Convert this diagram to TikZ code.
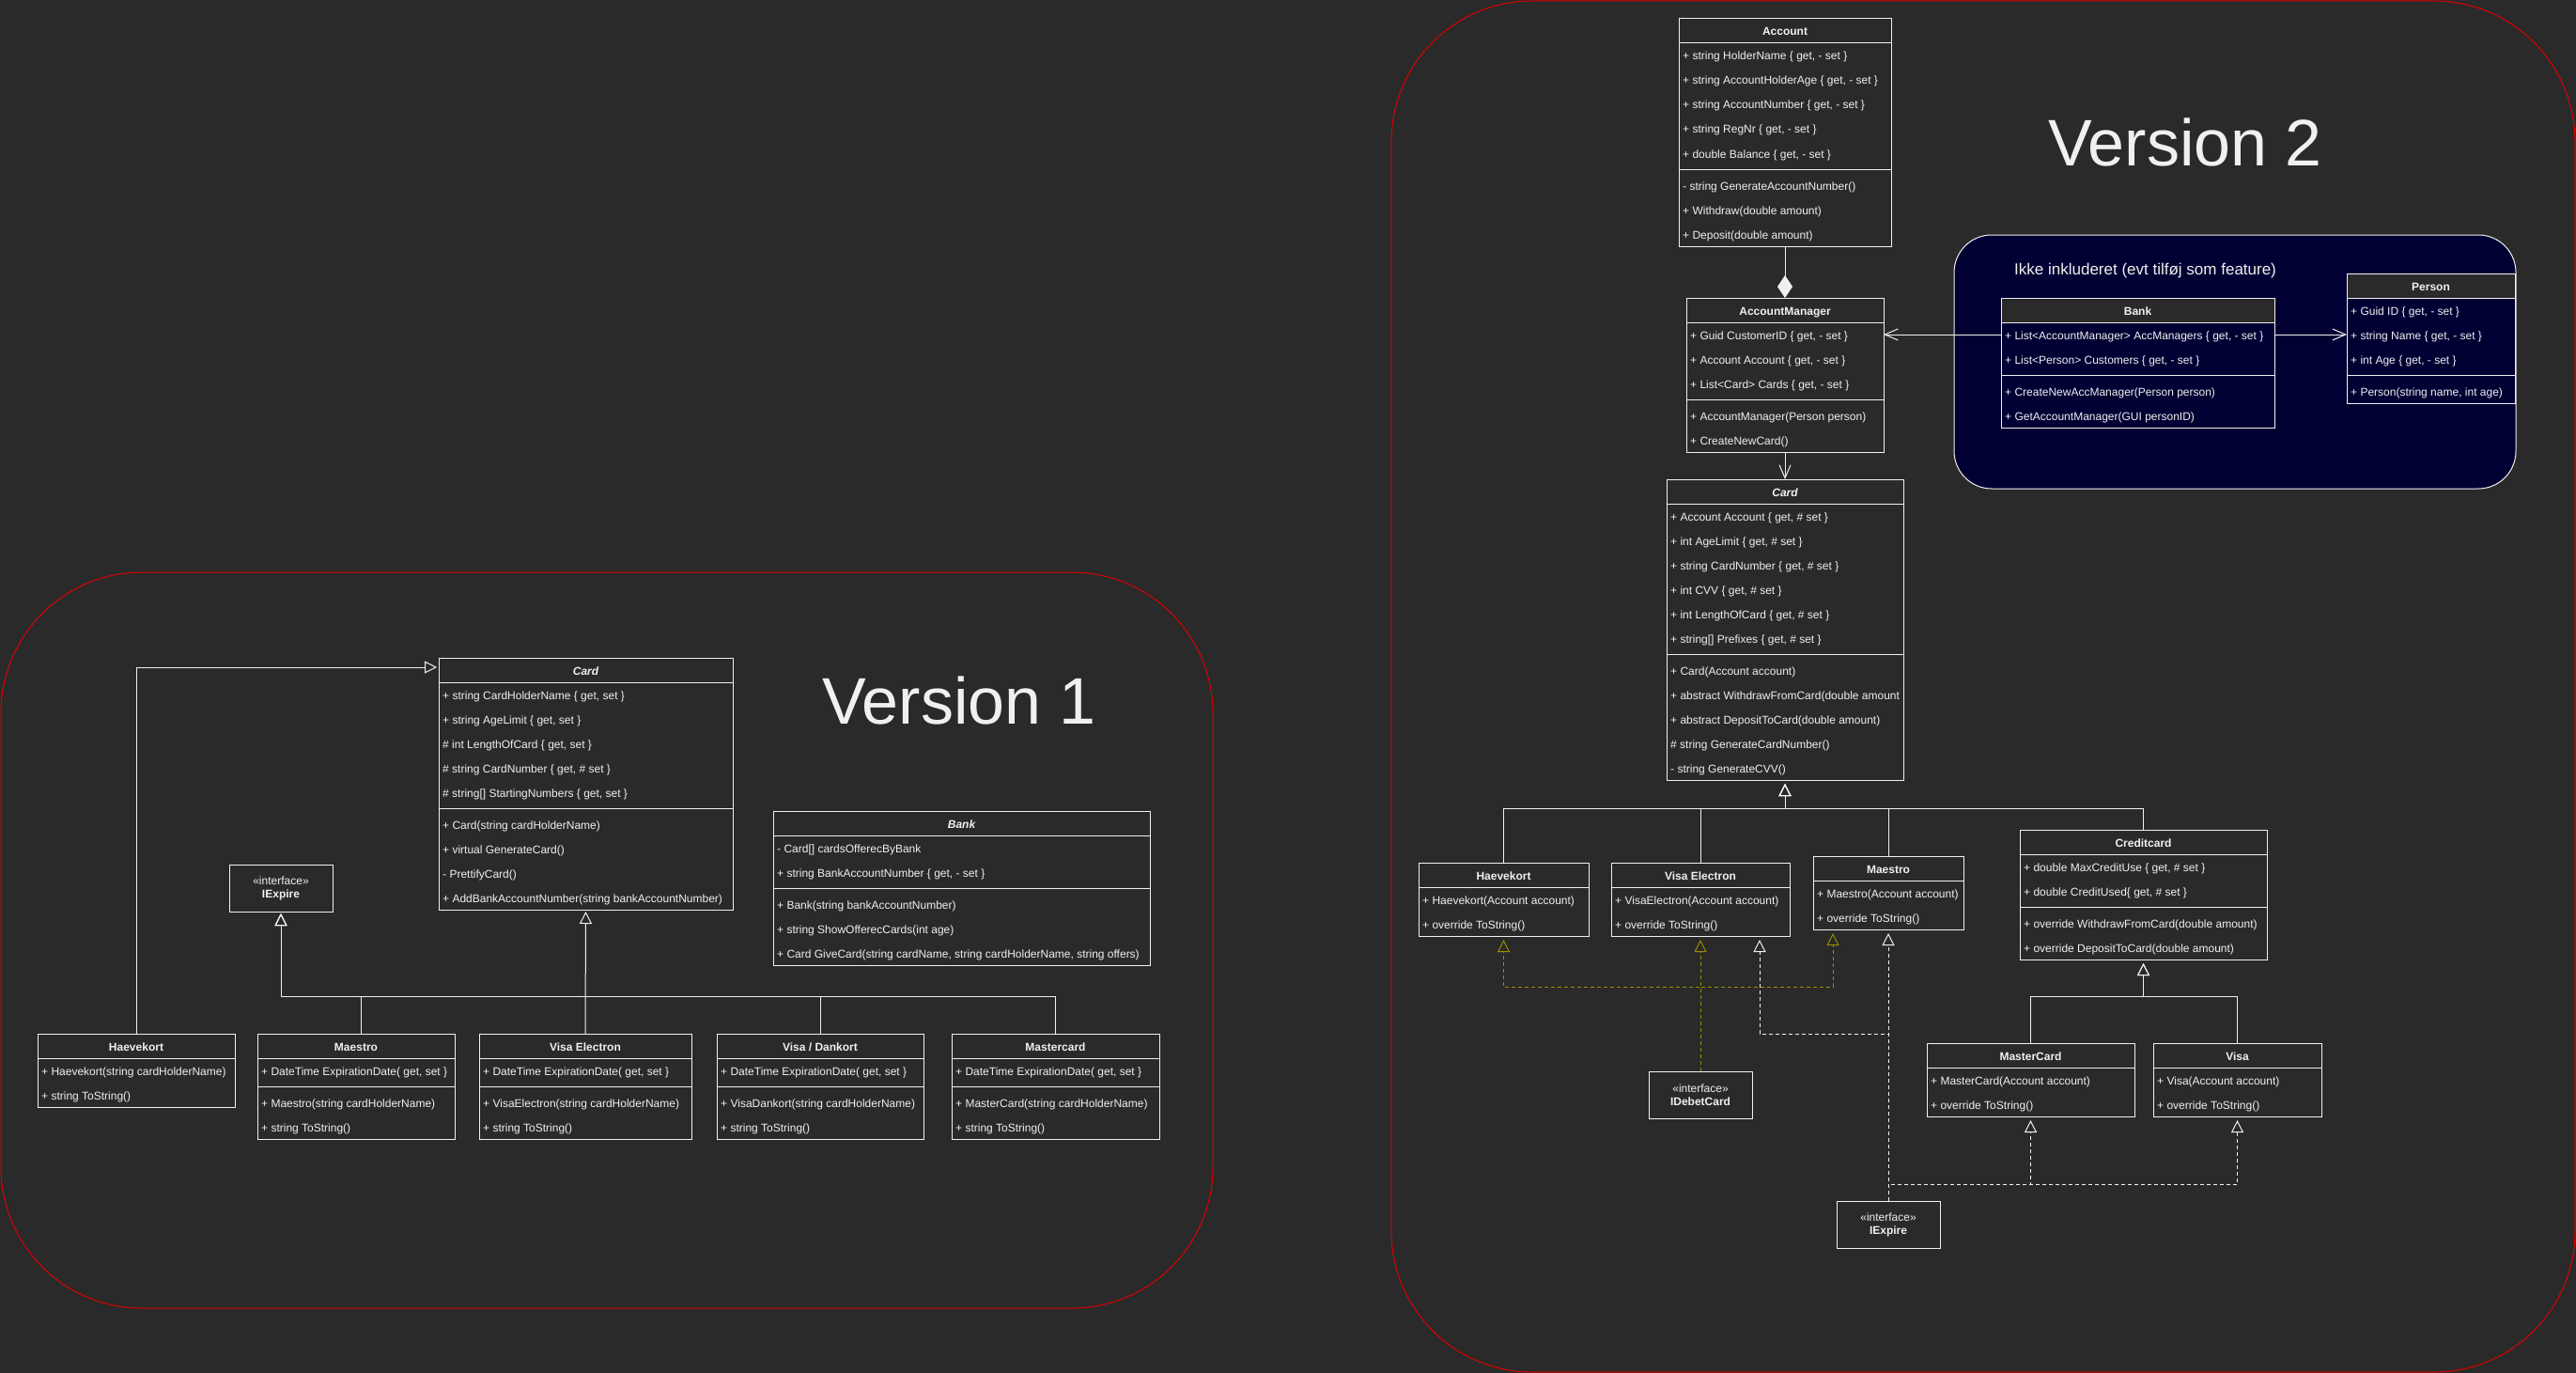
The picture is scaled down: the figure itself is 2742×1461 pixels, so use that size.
\documentclass[tikz,border=0pt]{standalone}
\usepackage{fontspec}
\setmainfont{Liberation Sans}
\usetikzlibrary{arrows.meta,calc}
\definecolor{bg}{HTML}{2A2A2A}
\definecolor{fg}{HTML}{F0F0F0}
\definecolor{navy}{HTML}{000033}
\definecolor{framered}{HTML}{E00000}
\definecolor{gold}{HTML}{A08A00}
\tikzset{
  umlbox/.style={draw=fg, line width=1pt, inner sep=0pt, outer sep=0pt, anchor=north west},
  umlline/.style={draw=fg, line width=1pt},
  umltext/.style={anchor=base west, inner sep=0pt, text=fg, font=\fontsize{12}{14}\selectfont},
  umltitle/.style={anchor=base, inner sep=0pt, text=fg, font=\fontsize{12}{14}\selectfont\bfseries},
  ifbox/.style={umlbox, minimum width=110, minimum height=50, align=center, text=fg, font=\fontsize{12}{14}\selectfont},
  inh/.style={draw=fg, line width=1pt, -{Triangle[open, length=13pt, width=13pt]}, shorten >=2pt},
  inhb/.style={draw=fg, line width=1pt, -{Triangle[open, length=13pt, width=13pt]}, shorten >=4pt},
  ydash/.style={draw=gold, line width=1pt, dash pattern=on 4pt off 3pt, -{Triangle[open, length=13pt, width=13pt]}, shorten >=4pt},
  wdash/.style={draw=fg, line width=1pt, dash pattern=on 4pt off 3pt, -{Triangle[open, length=13pt, width=13pt]}, shorten >=4pt},
  assoc/.style={draw=fg, line width=1pt, -{Straight Barb[length=14pt, width=12pt]}},
  compo/.style={draw=fg, line width=1pt, -{Diamond[length=24pt, width=16pt, fill=fg]}},
  framebox/.style={draw=framered, line width=1pt, rounded corners=150pt, inner sep=0pt, outer sep=0pt, anchor=north west},
  bigtitle/.style={text=fg, inner sep=0pt, font=\fontsize{70}{82}\selectfont}
}
\newcommand\umlrows[4]{%
  \foreach \t [count=\k] in {#4}{%
    \node[umltext] (#1\k) at ({#2+4},{#3+26*\k-8}) {\t};
  }%
}
\newcommand\umlclass[9]{%
  \pgfmathtruncatemacro\umlh{26+26*#5+(#6>0)*(8+26*#6)}%
  \node[umlbox, minimum width=#4, minimum height=\umlh] (#1) at (#2,#3) {};
  \node[umltitle] (#1-t) at ({#2+#4/2},{#3+18}) {#7};
  \draw[umlline] ($(#1.north west)+(0,26)$) -- ($(#1.north east)+(0,26)$);
  \umlrows{#1-a}{#2}{#3+26}{#8}%
  \ifnum#6>0
    \draw[umlline] ($(#1.north west)+(0,{30+26*#5})$) -- ($(#1.north east)+(0,{30+26*#5})$);
    \umlrows{#1-m}{#2}{#3+34+26*#5}{#9}%
  \fi
}
\begin{document}
\begin{tikzpicture}[x=1pt, y=-1pt]
\fill[bg] (0,0) rectangle (2742,1461);
\useasboundingbox (0,0) rectangle (2742,1461);

% frames
\node[framebox, minimum width=1290, minimum height=783] (v1frame) at (1,609) {};
\node[framebox, minimum width=1260, minimum height=1459] (v2frame) at (1481,1) {};
\node[bigtitle] (v1title) at (1021,745) {Version 1};
\node[bigtitle] (v2title) at (2326,151) {Version 2};

% ---------------- Version 1 ----------------
\umlclass{card1}{467}{700}{313}{5}{4}{\itshape Card}
  {{+ string CardHolderName \{ get, set \}},
   {+ string AgeLimit \{ get, set \}},
   {\# int LengthOfCard \{ get, set \}},
   {\# string CardNumber \{ get, \# set \}},
   {\# string[] StartingNumbers \{ get, set \}}}
  {{+ Card(string cardHolderName)},
   {+ virtual GenerateCard()},
   {- PrettifyCard()},
   {+ AddBankAccountNumber(string bankAccountNumber)}}

\umlclass{bank1}{823}{863}{401}{2}{3}{\itshape Bank}
  {{- Card[] cardsOfferecByBank},
   {+ string BankAccountNumber \{ get, - set \}}}
  {{+ Bank(string bankAccountNumber)},
   {+ string ShowOfferecCards(int age)},
   {+ Card GiveCard(string cardName, string cardHolderName, string offers)}}

\node[ifbox] (iexp1) at (244,920) {«interface»\\\textbf{IExpire}};

\umlclass{hae1}{40}{1100}{210}{2}{0}{Haevekort}
  {{+ Haevekort(string cardHolderName)},
   {+ string ToString()}}{}
\umlclass{mae1}{274}{1100}{210}{1}{2}{Maestro}
  {{+ DateTime ExpirationDate( get, set \}}}
  {{+ Maestro(string cardHolderName)},
   {+ string ToString()}}
\umlclass{vel1}{510}{1100}{226}{1}{2}{Visa Electron}
  {{+ DateTime ExpirationDate( get, set \}}}
  {{+ VisaElectron(string cardHolderName)},
   {+ string ToString()}}
\umlclass{vd1}{763}{1100}{220}{1}{2}{Visa / Dankort}
  {{+ DateTime ExpirationDate( get, set \}}}
  {{+ VisaDankort(string cardHolderName)},
   {+ string ToString()}}
\umlclass{mc1}{1013}{1100}{221}{1}{2}{Mastercard}
  {{+ DateTime ExpirationDate( get, set \}}}
  {{+ MasterCard(string cardHolderName)},
   {+ string ToString()}}

\draw[inh] (hae1.north) |- ($(card1.north west)+(0,10)$);
\draw[inh] (vel1.north) -- (card1.south);
\draw[inh] ($(mae1.north)+(5,0)$) -- ++(0,-40) -| (iexp1.south);
\draw[inh] (vd1.north) -- ++(0,-40) -| (iexp1.south);
\draw[inh] (mc1.north) -- ++(0,-40) -| (iexp1.south);

% ---------------- Version 2 ----------------
\node[draw=fg, fill=navy, line width=1pt, rounded corners=40pt, minimum width=598, minimum height=270, inner sep=0pt, outer sep=0pt, anchor=north west] (ext) at (2080,250) {};
\node[anchor=base west, inner sep=0pt, text=fg, font=\fontsize{17}{20}\selectfont] (extlabel) at (2144,292) {Ikke inkluderet (evt tilføj som feature)};

\umlclass{acc}{1787}{20}{226}{5}{3}{Account}
  {{+ string HolderName \{ get, - set \}},
   {+ string AccountHolderAge \{ get, - set \}},
   {+ string AccountNumber \{ get, - set \}},
   {+ string RegNr \{ get, - set \}},
   {+ double Balance \{ get, - set \}}}
  {{- string GenerateAccountNumber()},
   {+ Withdraw(double amount)},
   {+ Deposit(double amount)}}

\umlclass{am}{1795}{317}{210}{3}{2}{AccountManager}
  {{+ Guid CustomerID \{ get, - set \}},
   {+ Account Account \{ get, - set \}},
   {+ List<Card> Cards \{ get, - set \}}}
  {{+ AccountManager(Person person)},
   {+ CreateNewCard()}}

\umlclass{card2}{1774}{510}{252}{6}{5}{\itshape Card}
  {{+ Account Account \{ get, \# set \}},
   {+ int AgeLimit \{ get, \# set \}},
   {+ string CardNumber \{ get, \# set \}},
   {+ int CVV \{ get, \# set \}},
   {+ int LengthOfCard \{ get, \# set \}},
   {+ string[] Prefixes \{ get, \# set \}}}
  {{+ Card(Account account)},
   {+ abstract WithdrawFromCard(double amount},
   {+ abstract DepositToCard(double amount)},
   {\# string GenerateCardNumber()},
   {- string GenerateCVV()}}

\fill[bg] (2130,317) rectangle ++(291,26);
\umlclass{bank2}{2130}{317}{291}{2}{2}{Bank}
  {{+ List<AccountManager> AccManagers \{ get, - set \}},
   {+ List<Person> Customers \{ get, - set \}}}
  {{+ CreateNewAccManager(Person person)},
   {+ GetAccountManager(GUI personID)}}

\fill[bg] (2498,291) rectangle ++(179,26);
\umlclass{person}{2498}{291}{179}{3}{1}{Person}
  {{+ Guid ID \{ get, - set \}},
   {+ string Name \{ get, - set \}},
   {+ int Age \{ get, - set \}}}
  {{+ Person(string name, int age)}}

\umlclass{hae2}{1510}{918}{181}{2}{0}{Haevekort}
  {{+ Haevekort(Account account)},
   {+ override ToString()}}{}
\umlclass{vel2}{1715}{918}{190}{2}{0}{Visa Electron}
  {{+ VisaElectron(Account account)},
   {+ override ToString()}}{}
\umlclass{mae2}{1930}{911}{160}{2}{0}{Maestro}
  {{+ Maestro(Account account)},
   {+ override ToString()}}{}
\umlclass{cc}{2150}{883}{263}{2}{2}{Creditcard}
  {{+ double MaxCreditUse \{ get, \# set \}},
   {+ double CreditUsed\{ get, \# set \}}}
  {{+ override WithdrawFromCard(double amount)},
   {+ override DepositToCard(double amount)}}
\umlclass{mc2}{2051}{1110}{221}{2}{0}{MasterCard}
  {{+ MasterCard(Account account)},
   {+ override ToString()}}{}
\umlclass{visa}{2292}{1110}{179}{2}{0}{Visa}
  {{+ Visa(Account account)},
   {+ override ToString()}}{}

\node[ifbox] (idebet) at (1755,1140) {«interface»\\\textbf{IDebetCard}};
\node[ifbox] (iexp2) at (1955,1278) {«interface»\\\textbf{IExpire}};

% connectors v2
\draw[compo] (acc.south) -- (am.north);
\draw[assoc] ($(bank2.north west)+(0,39)$) -- ($(am.north east)+(0,39)$);
\draw[assoc] ($(bank2.north east)+(0,39)$) -- ($(person.north west)+(0,65)$);
\draw[assoc] (am.south) -- (card2.north);

\draw[inhb] (hae2.north) -- ++(0,-58) -| (card2.south);
\draw[inhb] (vel2.north) -- ++(0,-58) -| (card2.south);
\draw[inhb] (mae2.north) -- ++(0,-51) -| (card2.south);
\draw[inhb] (cc.north) -- ++(0,-23) -| (card2.south);
\draw[inhb] (mc2.north) -- ++(0,-50) -| (cc.south);
\draw[inhb] (visa.north) -- ++(0,-50) -| (cc.south);

\draw[ydash] (idebet.north) -- (vel2.south);
\draw[ydash] (idebet.north) -- ++(0,-90) -| (hae2.south);
\draw[ydash] (idebet.north) -- ++(0,-90) -| ($(mae2.south)+(-59,0)$);

\draw[wdash] (iexp2.north) -- (mae2.south);
\draw[wdash] (iexp2.north) -- ++(0,-178) -| ($(vel2.south)+(63,0)$);
\draw[wdash] (iexp2.north) -- ++(0,-18) -| (mc2.south);
\draw[wdash] (iexp2.north) -- ++(0,-18) -| (visa.south);
\end{tikzpicture}
\end{document}
